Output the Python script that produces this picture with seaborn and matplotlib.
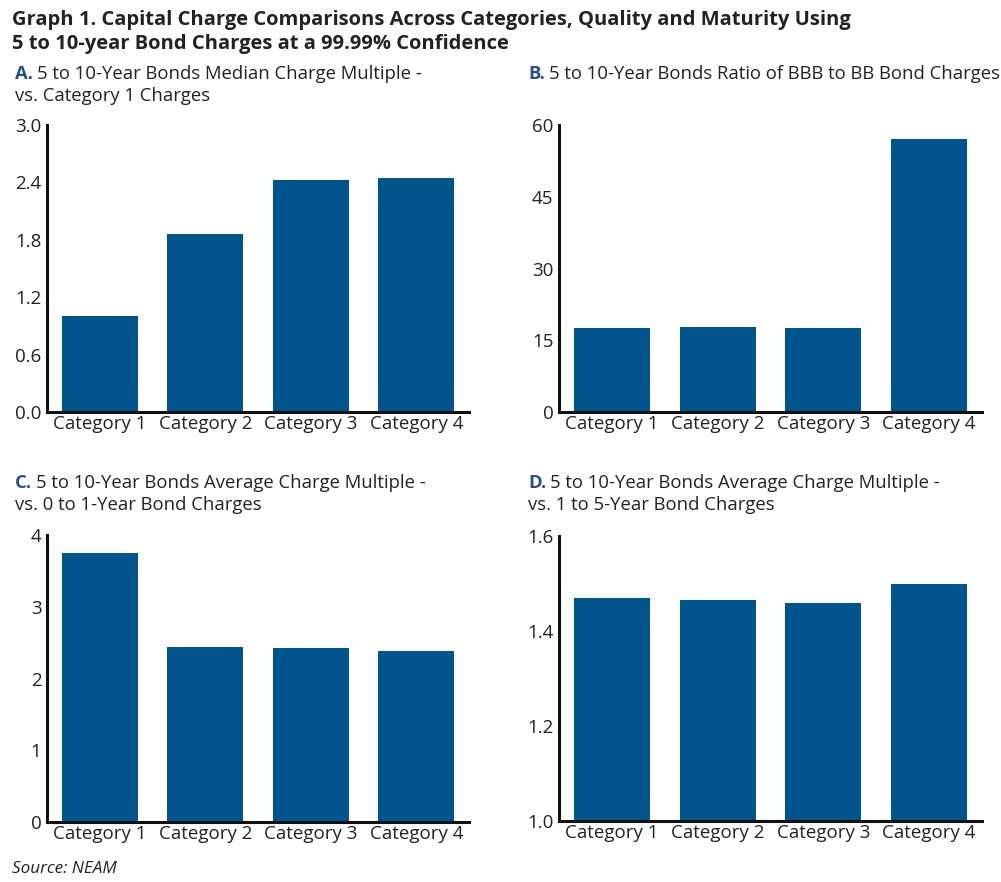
import numpy as np
import pandas as pd
import matplotlib
matplotlib.use('Agg')
import matplotlib.pyplot as plt
import seaborn as sns

# 数据
categories = ['Category 1', 'Category 2', 'Category 3', 'Category 4']
median_multiple = [1.00, 1.86, 2.43, 2.45]
bbb_bb_ratio = [17.5, 17.7, 17.5, 57.0]
avg_vs_short = [3.75, 2.44, 2.42, 2.38]
avg_vs_mid = [1.47, 1.465, 1.46, 1.50]

panel_letters = ['A.', 'B.', 'C.', 'D.']
panel_titles = [
    '5 to 10-Year Bonds Median Charge Multiple -\nvs. Category 1 Charges',
    '5 to 10-Year Bonds Ratio of BBB to BB Bond Charges',
    '5 to 10-Year Bonds Average Charge Multiple -\nvs. 0 to 1-Year Bond Charges',
    '5 to 10-Year Bonds Average Charge Multiple -\nvs. 1 to 5-Year Bond Charges',
]
y_ticks = [
    [0.0, 0.6, 1.2, 1.8, 2.4, 3.0],
    [0, 15, 30, 45, 60],
    [0, 1, 2, 3, 4],
    [1.0, 1.2, 1.4, 1.6],
]
y_labels = [
    ['0.0', '0.6', '1.2', '1.8', '2.4', '3.0'],
    ['0', '15', '30', '45', '60'],
    ['0', '1', '2', '3', '4'],
    ['1.0', '1.2', '1.4', '1.6'],
]

BAR = '#02548c'
INK = '#222222'
LETTER = '#2b4c8f'

sns.set_theme(style='white')
plt.rcParams['font.family'] = ['Open Sans', 'DejaVu Sans']
plt.rcParams['text.color'] = INK

W, H = 1001, 882
fig = plt.figure(figsize=(W / 100, H / 100), dpi=100)

# 轴的位置（像素）
boxes = [(47, 125, 469, 412), (559, 125, 982, 412),
         (47, 535, 469, 822), (559, 536, 982, 821)]
title_pos = [(15, 79), (528, 79), (15, 488), (528, 488)]

series = [median_multiple, bbb_bb_ratio, avg_vs_short, avg_vs_mid]

for i, vals in enumerate(series):
    x0, y0, x1, y1 = boxes[i]
    ax = fig.add_axes([x0 / W, 1 - y1 / H, (x1 - x0) / W, (y1 - y0) / H])
    df = pd.DataFrame({'cat': categories, 'val': vals})
    sns.barplot(data=df, x='cat', y='val', color=BAR, saturation=1,
                width=0.72, linewidth=0, ax=ax)
    ax.set_xlim(-0.5, 3.5)
    ax.set_ylim(y_ticks[i][0], y_ticks[i][-1])
    ax.set_yticks(y_ticks[i])
    ax.set_yticklabels(y_labels[i])
    ax.set_xlabel('')
    ax.set_ylabel('')
    ax.set_xticks([0.5, 1.5, 2.5, 3.5], minor=True)
    ax.tick_params(axis='x', which='major', length=0, pad=2, labelsize=13.5, labelcolor=INK)
    ax.tick_params(axis='x', which='minor', direction='in', length=5, width=2.2, color='#111111')
    ax.tick_params(axis='y', direction='in', length=5, width=2.2, color='#111111',
                   pad=4, labelsize=13.5, labelcolor=INK)
    for s in ['top', 'right']:
        ax.spines[s].set_visible(False)
    for s in ['left', 'bottom']:
        ax.spines[s].set_linewidth(2.2)
        ax.spines[s].set_color('#111111')
    ax.set_facecolor('white')

    # 子图标题
    tx, ty = title_pos[i]
    lt = fig.text(tx / W, 1 - ty / H, panel_letters[i], fontsize=13.3, fontweight='bold',
                  color=LETTER, va='baseline', ha='left')
    fig.canvas.draw()
    bb = lt.get_window_extent()
    lines = panel_titles[i].split('\n')
    for k, line in enumerate(lines):
        if k == 0:
            xx = (bb.x1 + 4) / W
        else:
            xx = tx / W
        fig.text(xx, 1 - (ty + 22 * k) / H, line, fontsize=13.3, color=INK,
                 va='baseline', ha='left')

fig.text(12 / W, 1 - 25 / H,
         'Graph 1. Capital Charge Comparisons Across Categories, Quality and Maturity Using',
         fontsize=14.5, fontweight='bold', color=INK, va='baseline', ha='left')
fig.text(12 / W, 1 - 48.5 / H, '5 to 10-year Bond Charges at a 99.99% Confidence',
         fontsize=14.5, fontweight='bold', color=INK, va='baseline', ha='left')
fig.text(12 / W, 1 - 873 / H, 'Source: NEAM', fontsize=12.3, style='italic',
         color=INK, va='baseline', ha='left')

fig.savefig('out.png', dpi=100, facecolor='white')
